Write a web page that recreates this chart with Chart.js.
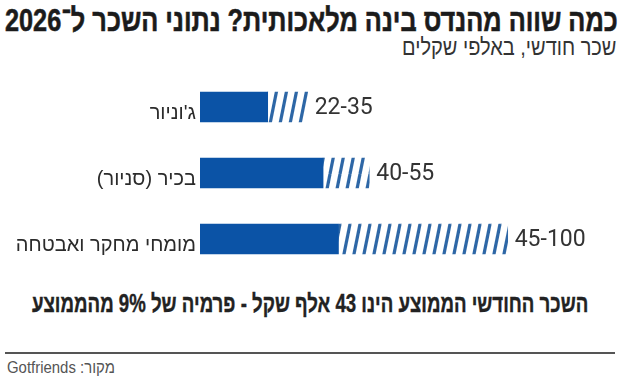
<!DOCTYPE html>
<html lang="he">
<head>
<meta charset="utf-8">
<script src="https://cdn.jsdelivr.net/npm/chart.js@4"></script>
<style>
  body { margin:0; width:624px; height:383px; background:#fff; overflow:hidden; position:relative;
         font-family:'Liberation Sans Narrow','Liberation Sans','DejaVu Sans',sans-serif; }
  .txt { position:absolute; direction:rtl; white-space:nowrap; line-height:1; }
  #title { right:6px; top:4px; font-size:32px; font-weight:bold; color:#1b1b1b; -webkit-text-stroke:0.6px #1b1b1b; transform-origin:right top; }
  #subtitle { right:8px; top:36px; font-size:23px; color:#333; transform-origin:right top; }
  #note { left:32px; top:291px; font-size:25px; font-weight:bold; color:#222; -webkit-text-stroke:0.4px #222; transform-origin:left top; }
  #rule { position:absolute; left:5px; width:610px; top:352px; height:2px; background:#555; }
  #source { left:7px; top:359px; font-size:17px; color:#555; transform-origin:left top; }
  #wrap { position:absolute; left:0; top:74px; width:624px; height:198px; }
</style>
</head>
<body>
<div id="title" class="txt" data-w="613">כמה שווה מהנדס בינה מלאכותית? נתוני השכר ל־2026</div>
<div id="subtitle" class="txt" data-w="214">שכר חודשי, באלפי שקלים</div>
<div id="wrap"><canvas id="salaryChart"></canvas></div>
<div id="note" class="txt" data-w="556">השכר החודשי הממוצע הינו 43 אלף שקל - פרמיה של 9% מהממוצע</div>
<div id="rule"></div>
<div id="source" class="txt" data-w="108">מקור: Gotfriends</div>
<script>
// salary ranges, thousands of shekels per month
const categories = ["ג'וניור", 'בכיר (סניור)', 'מומחי מחקר ואבטחה'];
const salaryLow = [22, 40, 45];
const salaryHigh = [35, 55, 100];
const rangeLabels = ['22-35', '40-55', '45-100'];

const BAR_BLUE = '#0b53a6';
const STRIPE_BLUE = '#2e67a6';

// squeeze the html texts to the widths in the original graphic
document.querySelectorAll('.txt').forEach(el => {
    const target = parseFloat(el.dataset.w);
    el.style.transform = 'scaleX(' + (target / el.offsetWidth) + ')';
});

const ctx = document.getElementById('salaryChart').getContext('2d');

function makeHatch() {
    const c = document.createElement('canvas');
    c.width = 10;
    c.height = 50;
    const g = c.getContext('2d');
    g.strokeStyle = STRIPE_BLUE;
    g.lineWidth = 3.2;
    for (let x = -20; x <= 20; x += 10) {
        g.beginPath();
        g.moveTo(x, 50);
        g.lineTo(x + 10, 0);
        g.stroke();
    }
    return ctx.createPattern(c, 'repeat');
}

const labelPlugin = {
    id: 'rangeLabels',
    afterDatasetsDraw(chart) {
        const c = chart.ctx;
        const xs = chart.scales.x;
        const ys = chart.scales.y;
        c.save();
        c.textBaseline = 'alphabetic';
        categories.forEach((name, i) => {
            const yy = ys.getPixelForValue(i);
            c.fillStyle = '#2b2b2b';
            c.direction = 'rtl';
            c.textAlign = 'right';
            c.font = '20px "Liberation Sans Narrow", "Liberation Sans", "DejaVu Sans", sans-serif';
            c.fillText(name, xs.left - 4, yy + 12);

            c.direction = 'ltr';
            c.textAlign = 'left';
            c.fillStyle = '#333';
            c.font = '23px Roboto, sans-serif';
            c.fillText(rangeLabels[i], xs.getPixelForValue(salaryHigh[i]) + 7, yy + 7);
        });
        c.restore();
    }
};

new Chart(ctx, {
    type: 'bar',
    data: {
        labels: categories,
        datasets: [
            {
                label: 'low',
                data: salaryLow,
                backgroundColor: BAR_BLUE,
                barThickness: 30,
                grouped: false,
                order: 1
            },
            {
                label: 'range',
                data: salaryLow.map((v, i) => [v, salaryHigh[i]]),
                backgroundColor: makeHatch(),
                barThickness: 30,
                grouped: false,
                order: 2
            }
        ]
    },
    options: {
        indexAxis: 'y',
        responsive: true,
        maintainAspectRatio: false,
        animation: false,
        layout: { padding: { left: 200, right: 24, top: 0, bottom: 0 } },
        scales: {
            x: { display: false, min: 0, max: 130 },
            y: { display: false }
        },
        plugins: {
            legend: { display: false },
            tooltip: { enabled: false }
        }
    },
    plugins: [labelPlugin]
});
</script>
</body>
</html>
